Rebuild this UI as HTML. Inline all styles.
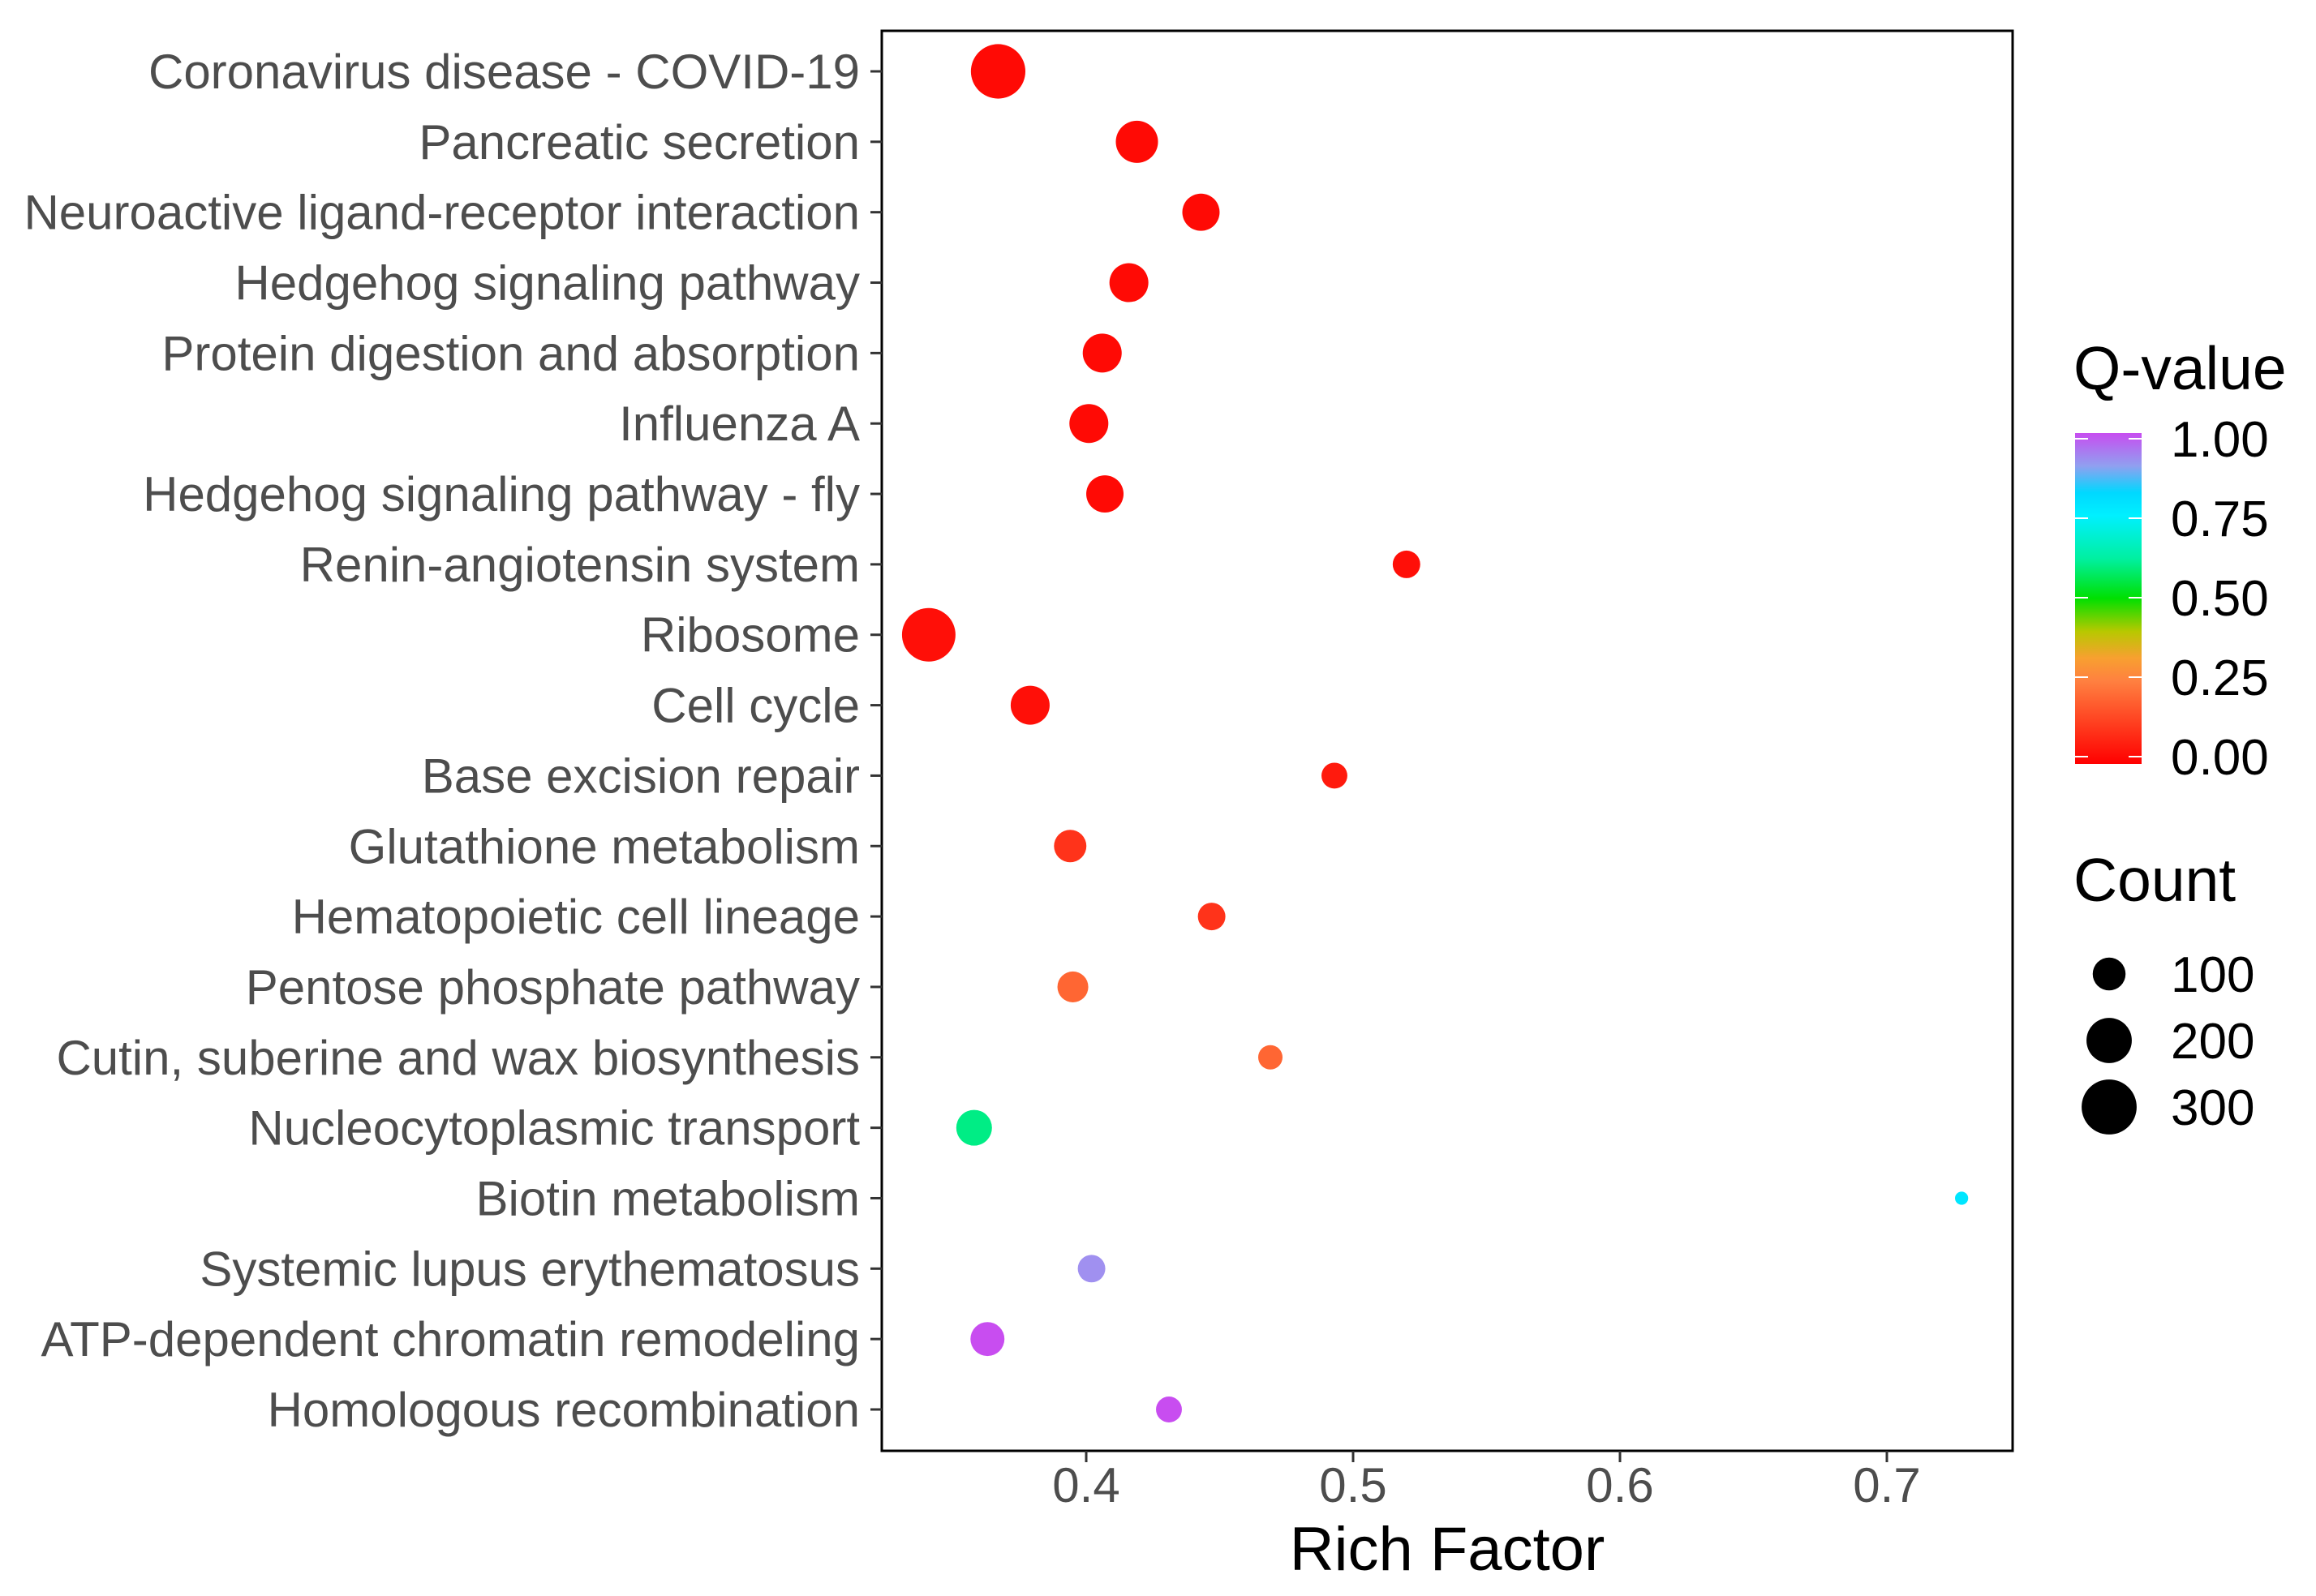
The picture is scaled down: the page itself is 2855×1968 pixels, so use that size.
<!DOCTYPE html>
<html><head><meta charset="utf-8"><style>
html,body{margin:0;padding:0;background:#fff;}
svg{display:block;font-family:"Liberation Sans",Arial,sans-serif;}
</style></head><body>
<svg id="chart" width="2855" height="1968" viewBox="0 0 2855 1968" xmlns="http://www.w3.org/2000/svg">
<defs>
<linearGradient id="qgrad" x1="0" y1="1" x2="0" y2="0">
<stop offset="0" stop-color="#FF0000"/>
<stop offset="0.25" stop-color="#FF8040"/>
<stop offset="0.32" stop-color="#F8A030"/>
<stop offset="0.4" stop-color="#B8C800"/>
<stop offset="0.5" stop-color="#00E000"/>
<stop offset="0.62" stop-color="#00F0A0"/>
<stop offset="0.75" stop-color="#00F0FF"/>
<stop offset="0.82" stop-color="#00D8FF"/>
<stop offset="0.9" stop-color="#90A0F0"/>
<stop offset="1" stop-color="#C84DF0"/>
</linearGradient>
</defs>
<rect x="1087" y="38" width="1394" height="1751" fill="#fff" stroke="#000" stroke-width="3"/>
<g id="ygrp"></g>
<g id="xgrp"></g>
<g id="pts"></g>
<text x="1784" y="1936" font-size="76" text-anchor="middle" fill="#000">Rich Factor</text>
<g>
<text x="2556" y="480" font-size="75" fill="#000">Q-value</text>
<rect x="2558" y="534" width="82" height="408" fill="url(#qgrad)"/>
<g id="cbticks"></g>
</g>
<g>
<text x="2556" y="1111" font-size="75" fill="#000">Count</text>
<g id="sizeleg"></g>
</g>
</svg>
<script>
const categories = ["Coronavirus disease - COVID-19","Pancreatic secretion","Neuroactive ligand-receptor interaction","Hedgehog signaling pathway","Protein digestion and absorption","Influenza A","Hedgehog signaling pathway - fly","Renin-angiotensin system","Ribosome","Cell cycle","Base excision repair","Glutathione metabolism","Hematopoietic cell lineage","Pentose phosphate pathway","Cutin, suberine and wax biosynthesis","Nucleocytoplasmic transport","Biotin metabolism","Systemic lupus erythematosus","ATP-dependent chromatin remodeling","Homologous recombination"];
const richFactor = [0.367,0.419,0.443,0.416,0.406,0.401,0.407,0.520,0.341,0.379,0.493,0.394,0.447,0.395,0.469,0.358,0.728,0.402,0.363,0.431];
const counts = [294,172,132,145,145,145,132,67,283,145,58,97,67,87,50,120,7,67,108,58];
const qValues = [0.02,0.02,0.02,0.02,0.02,0.02,0.02,0.03,0.03,0.03,0.05,0.1,0.1,0.2,0.2,0.6,0.78,0.9,1.0,1.0];
const xTicks = [0.4,0.5,0.6,0.7];
const xTickLabels = ["0.4","0.5","0.6","0.7"];
const qTicks = [0,0.25,0.5,0.75,1];
const qTickLabels = ["0.00","0.25","0.50","0.75","1.00"];
const sizeBreaks = [100,200,300];

const NS="http://www.w3.org/2000/svg";
function mk(tag,attrs,parent){const e=document.createElementNS(NS,tag);for(const k in attrs)e.setAttribute(k,attrs[k]);parent.appendChild(e);return e;}
function xScale(v){return 1339+(v-0.4)*3290;}
function yScale(i){return 88+i*((1738-88)/(categories.length-1));}
function rScale(c){return Math.sqrt(Math.max(40+3.7*c,16));}
const stops=[[0,[255,0,0]],[0.25,[255,128,64]],[0.32,[248,160,48]],[0.4,[184,200,0]],[0.5,[0,224,0]],[0.62,[0,240,160]],[0.75,[0,240,255]],[0.82,[0,216,255]],[0.9,[160,144,240]],[1,[200,77,240]]];
function qColor(q){for(let i=1;i<stops.length;i++){if(q<=stops[i][0]){const a=stops[i-1],b=stops[i];const t=(q-a[0])/(b[0]-a[0]);const c=a[1].map((v,j)=>Math.round(v+(b[1][j]-v)*t));return `rgb(${c})`;}}return "rgb(200,77,240)";}

const yg=document.getElementById('ygrp');
categories.forEach((c,i)=>{
  const y=yScale(i);
  const t=mk('text',{x:1060,y:y+21,'font-size':60,'text-anchor':'end',fill:'#4D4D4D'},yg);
  t.textContent=c;
  
  
  const l=mk('line',{x1:1073,x2:1087,y1:y,y2:y,stroke:'#333','stroke-width':3},yg);
  
  
});
const xg=document.getElementById('xgrp');
xTicks.forEach((v,i)=>{
  const x=xScale(v);
  const l=mk('line',{x1:x,x2:x,y1:1789,y2:1803,stroke:'#333','stroke-width':3},xg);
  
  
  const t=mk('text',{x:x,y:1852,'font-size':60,'text-anchor':'middle',fill:'#4D4D4D'},xg);
  t.textContent=xTickLabels[i];
  
  
});
const pg=document.getElementById('pts');
categories.forEach((c,i)=>{
  const ci=mk('circle',{cx:xScale(richFactor[i]),cy:yScale(i),r:rScale(counts[i]),fill:qColor(qValues[i])},pg);
  
  
});
const cb=document.getElementById('cbticks');
qTicks.forEach((q,i)=>{
  const y=933-q*(933-541);
  const l1=mk('line',{x1:2558,x2:2574,y1:y,y2:y,stroke:'#fff','stroke-width':2},cb);
  
  
  const l2=mk('line',{x1:2624,x2:2640,y1:y,y2:y,stroke:'#fff','stroke-width':2},cb);
  
  
  const t=mk('text',{x:2676,y:y+22,'font-size':62,fill:'#000'},cb);
  t.textContent=qTickLabels[i];
  
  
});
const sl=document.getElementById('sizeleg');
sizeBreaks.forEach((s,i)=>{
  const y=1201+i*82;
  const ci=mk('circle',{cx:2600,cy:y,r:rScale(s),fill:'#000'},sl);
  
  
  const t=mk('text',{x:2676,y:y+22,'font-size':62,fill:'#000'},sl);
  t.textContent=String(s);
  
  
});
</script>
</body></html>
